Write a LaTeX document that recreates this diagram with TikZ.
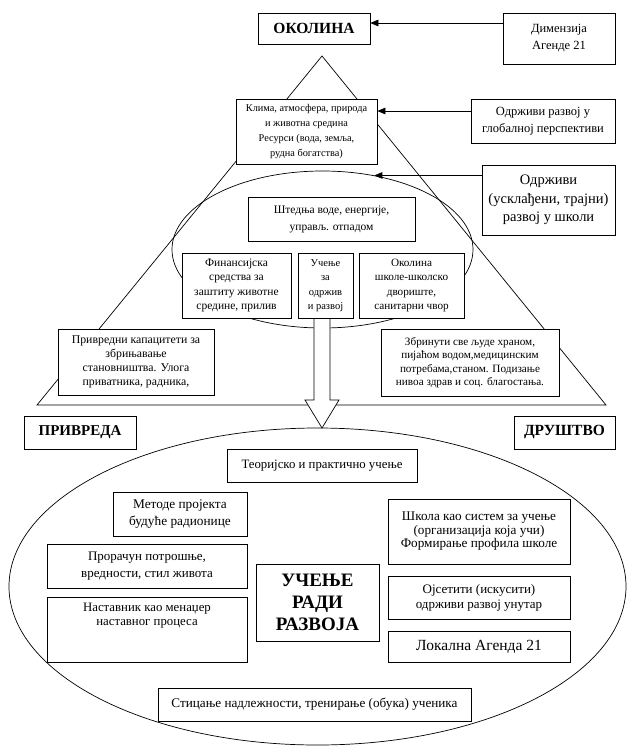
\documentclass[tikz,border=0pt]{standalone}
\usepackage{fontspec}
\setmainfont{Liberation Serif}
\usetikzlibrary{arrows.meta,shapes.geometric,calc}
\newcommand\myfs[2]{\fontsize{#1}{#2}\selectfont}
\begin{document}
\begin{tikzpicture}[x=1pt,y=-1pt,
  box/.style={draw, line width=0.7pt, fill=white, align=center, inner sep=0pt},
  arr/.style={-{Triangle[length=8pt,width=6.5pt]}, line width=0.7pt},
  ln/.style={line width=0.7pt}]
\useasboundingbox[fill=white] (0,0) rectangle (627,747);
% triangle
\draw[ln] (322,56) coordinate (tA) -- (606,405) coordinate (tR) -- (37,405) coordinate (tL) -- cycle;
% ellipses
\node[ln, draw, ellipse, minimum width=301pt, minimum height=157pt, inner sep=0pt] (ell1) at (322.5,249.5) {};
\node[ln, draw, ellipse, minimum width=617pt, minimum height=317pt, inner sep=0pt] (ell2) at (317.5,586.5) {};
% big arrow
\draw[ln, fill=white] (314,318) -- (314,400) -- (305,400) -- (322,428) -- (339,400) -- (330,400) -- (330,318) -- cycle;
% top boxes
\node[box, minimum width=112pt, minimum height=31pt, font=\myfs{15.5}{18}\bfseries] (okolina) at (314,28.5) {ОКОЛИНА};
\node[box, minimum width=112pt, minimum height=51pt, font=\myfs{12.5}{17}] (dim) at (559,38.5) {Димензија\\Агенде 21};
\node[box, minimum width=141pt, minimum height=65pt, font=\myfs{10.3}{14.8}] (klima) at (306.5,131.5) {Клима, атмосфера, природа\\и животна средина\\Ресурси (вода, земља,\\рудна богатства)};
\node[box, minimum width=144pt, minimum height=44pt, font=\myfs{12.5}{17}] (glob) at (543,121) {Одрживи развој у\\глобалној перспективи};
\node[box, minimum width=133pt, minimum height=70pt, font=\myfs{14.5}{18.5}] (odr2) at (548.5,200) {Одрживи\\(усклађени, трајни)\\развој у школи};
\node[box, minimum width=167pt, minimum height=44pt, font=\myfs{11.5}{17}] (stedn) at (331.5,219) {Штедња воде, енергије,\\управљ. отпадом};
\node[box, minimum width=109pt, minimum height=65pt, font=\myfs{11.5}{14.5}] (fin) at (236.5,285.5) {Финансијска\\средства за\\заштиту животне\\средине, прилив};
\node[box, minimum width=55pt, minimum height=65pt, font=\myfs{10.5}{14.5}] (ucen) at (325.5,285.5) {Учење\\за\\одржив\\и развој};
\node[box, minimum width=105pt, minimum height=65pt, font=\myfs{11.2}{14.5}] (okol) at (411.5,285.5) {Околина\\школе-школско\\двориште,\\санитарни чвор};
\node[box, minimum width=156pt, minimum height=66pt, font=\myfs{11.8}{14}] (priv) at (136,362) {Привредни капацитети за\\збрињавање\\становништва. Улога\\приватника, радника,};
\node[box, minimum width=178pt, minimum height=67pt, font=\myfs{11.2}{13.5}] (zbr) at (470,362.5) {Збринути све људе храном,\\пијаћом водом,медицинским\\потребама,станом. Подизање\\нивоа здрав и соц. благостања.};
\node[box, minimum width=112pt, minimum height=33pt, font=\myfs{15}{17}\bfseries] (privreda) at (80,432.5) {ПРИВРЕДА};
\node[box, minimum width=101pt, minimum height=33pt, font=\myfs{15.5}{17}\bfseries] (drustvo) at (564.5,432.5) {ДРУШТВО};
% lower boxes
\node[box, minimum width=190pt, minimum height=33pt, font=\myfs{12.8}{15}] (teor) at (322,465.5) {Теоријско и практично учење};
\node[box, minimum width=134pt, minimum height=44pt, font=\myfs{13.3}{17}] (metode) at (180,514) {Методе пројекта\\будуће радионице};
\node[box, minimum width=200pt, minimum height=44pt, font=\myfs{13}{17}] (pror) at (147,566) {Прорачун потрошње,\\вредности, стил живота};
\node[box, minimum width=200pt, minimum height=65pt] (nast) at (147,629.5) {};
\node[align=center, inner sep=0pt, anchor=north, font=\myfs{12.8}{14.5}] (nastT) at ([yshift=-6pt]nast.north) {Наставник као менаџер\\наставног процеса};
\node[box, minimum width=123pt, minimum height=77pt, font=\myfs{19}{22}\bfseries] (ucenje2) at (317.5,602.5) {УЧЕЊЕ\\РАДИ\\РАЗВОЈА};
\node[box, minimum width=182pt, minimum height=65pt, font=\myfs{13.2}{13.5}] (skola) at (479,531.5) {Школа као систем за учење\\(организација која учи)\\Формирање профила школе};
\node[box, minimum width=182pt, minimum height=43pt, font=\myfs{13}{15}] (osj) at (479,597.5) {Ојсетити (искусити)\\одрживи развој унутар};
\node[box, minimum width=182pt, minimum height=31pt, font=\myfs{15.5}{17}] (lok) at (479,646.5) {Локална Агенда 21};
\node[box, minimum width=313pt, minimum height=33pt, font=\myfs{13.2}{15}] (stic) at (314.5,704.5) {Стицање надлежности, тренирање (обука) ученика};
% arrows
\path (okolina.east) ++(0,-5.5) coordinate (o1);
\draw[arr] (dim.west |- o1) -- (o1);
\path (glob.west) ++(0,-10) coordinate (g1);
\draw[arr] (g1) -- (klima.east |- g1);
\coordinate (e1) at (ell1.55.5);
\draw[arr] (odr2.west |- e1) -- (e1);
\end{tikzpicture}
\end{document}
